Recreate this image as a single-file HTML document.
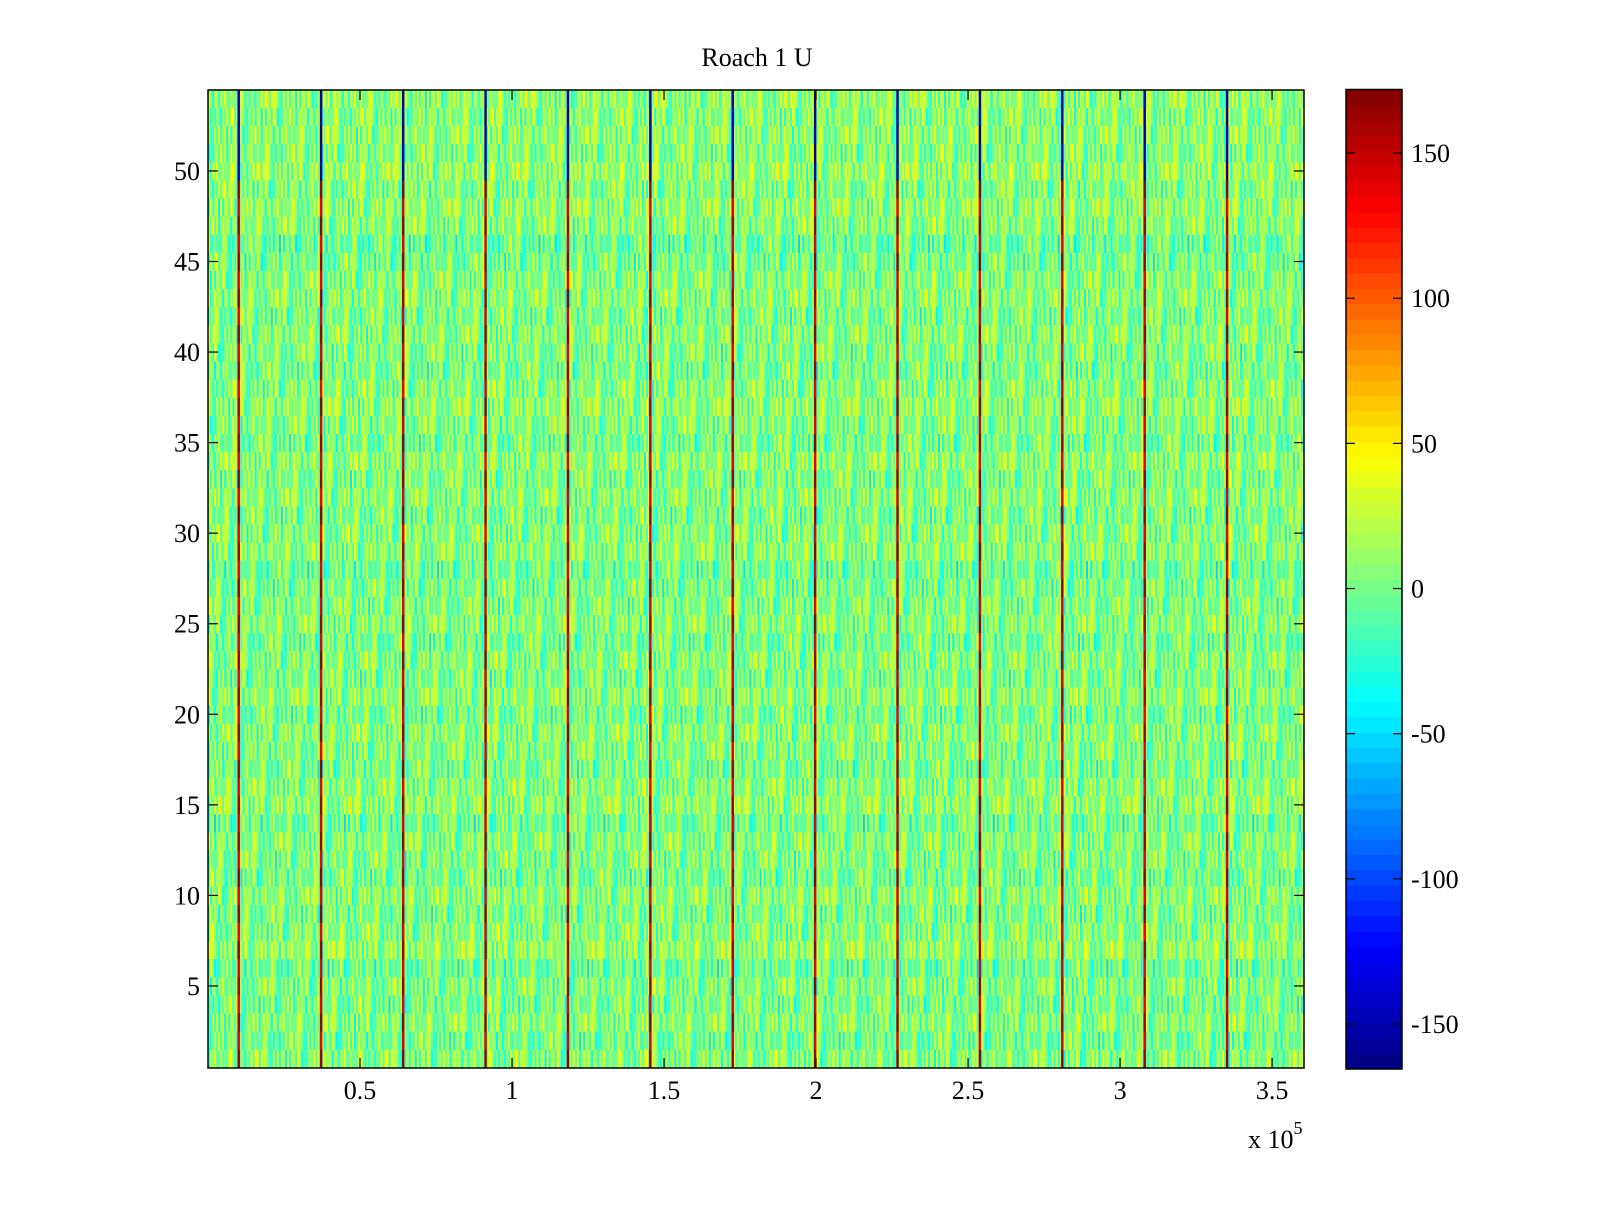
<!DOCTYPE html>
<html><head><meta charset="utf-8"><style>
html,body{margin:0;padding:0;background:#fff;}
svg text{font-family:"Liberation Serif",serif;fill:#000;}
</style></head><body>
<svg id="chart" width="1600" height="1200" xmlns="http://www.w3.org/2000/svg">
<text x="757" y="66" font-size="26" text-anchor="middle">Roach 1 U</text>
<g id="cells"></g>
<g id="spikes"></g>
<g id="axes"></g>
<g id="cbar"></g>
<text x="1248" y="1148" font-size="26">x 10<tspan dy="-14" font-size="18">5</tspan></text>
</svg>
<script>
const rowMeans = [2,-4,3,-2,1,-6,8,2,-1,4,-3,0,2,-5,6,3,-2,1,4,-3,5,-1,2,-4,3,0,-2,-6,4,2,-1,3,0,5,-3,1,6,2,-2,0,3,-1,4,2,-3,-8,3,6,1,8,2,5,3,6];
const textureVals = [-30,12,25,-8,40,-22,5,18,-35,30,2,-15,22,-5,35,-28,10,-40,15,28,-12,6,-20,33,-2,20,-33,8,42,-18,14,-6,26,-25,3,38,-10,17,-38,24,0,-14,31,-26,9,19,-7,36,-20,4,28,-32,13,-3,22,-16,45,-9,16,-28,7,30,-45,11];
const spikeX = [10100,37200,64200,91300,118400,145500,172600,199700,226800,253900,281000,308100,335200];
const spikeTopVal = -150, spikeLowVals = [165,140], spikeTopStartRow = 50, spikeWidth = 800;
const xTicks = [50000,100000,150000,200000,250000,300000,350000];
const xTickLabels = ["0.5","1","1.5","2","2.5","3","3.5"];
const yTicks = [5,10,15,20,25,30,35,40,45,50];
const cTicks = [150,100,50,0,-50,-100,-150];
const nCols = 540, colW = 667;

const L=208,R=1304,T=90,B=1068;
const xMin=0,xMax=360500,yMin=0.47,yMax=54.47;
const cMin=-165.5,cMax=171.9;
const CL=1346,CR=1402,CT=89.5,CB=1069;
const xs=v=>L+(v-xMin)/(xMax-xMin)*(R-L);
const ys=v=>B-(v-yMin)/(yMax-yMin)*(B-T);
const cs=v=>CB-(v-cMin)/(cMax-cMin)*(CB-CT);
const NS="http://www.w3.org/2000/svg";
function jet(v){
  let t=(v-cMin)/(cMax-cMin); t=Math.max(0,Math.min(1,t));
  t=(Math.floor(t*63.999)+0.5)/64;
  const c=x=>Math.round(255*Math.max(0,Math.min(1,x)));
  return `rgb(${c(1.5-Math.abs(4*t-3))},${c(1.5-Math.abs(4*t-2))},${c(1.5-Math.abs(4*t-1))})`;
}
function mk(tag,attrs,parent){const e=document.createElementNS(NS,tag);for(const k in attrs)e.setAttribute(k,attrs[k]);parent.appendChild(e);return e;}
const cells=document.getElementById('cells');
for(let r=0;r<rowMeans.length;r++){
  const row=r+1, y0=ys(row+0.5), y1=ys(row-0.5);
  for(let c=0;c<nCols;c++){
    const v=rowMeans[r]+textureVals[(c*37+r*11)%textureVals.length];
    const x0=xs(c*colW), x1=xs((c+1)*colW);
    const e=mk('rect',{x:x0.toFixed(2),y:y0.toFixed(2),width:(x1-x0+0.3).toFixed(2),height:(y1-y0+0.4).toFixed(2),fill:jet(v)},cells);
    
    
  }
}
const spikes=document.getElementById('spikes');
spikeX.forEach(sx=>{
  for(let r=0;r<rowMeans.length;r++){
    const row=r+1;
    const v=row>=spikeTopStartRow?spikeTopVal:spikeLowVals[r%spikeLowVals.length];
    const e=mk('rect',{x:xs(sx-spikeWidth/2).toFixed(2),y:ys(row+0.5).toFixed(2),width:(xs(spikeWidth)-xs(0)).toFixed(2),height:(ys(row-0.5)-ys(row+0.5)+0.4).toFixed(2),fill:jet(v)},spikes);
    
    
  }
});
const ax=document.getElementById('axes');
const fr=mk('rect',{x:L,y:T,width:R-L,height:B-T,fill:'none',stroke:'#000','stroke-width':1.5},ax);


xTicks.forEach((t,i)=>{
  const x=xs(t);
  mk('line',{x1:x,y1:B,x2:x,y2:B-10,stroke:'#000','stroke-width':1.2},ax);
  mk('line',{x1:x,y1:T,x2:x,y2:T+10,stroke:'#000','stroke-width':1.2},ax);
  const e=mk('text',{x:x,y:1099,'font-size':26,'text-anchor':'middle'},ax);
  e.textContent=xTickLabels[i];
  
  
});
yTicks.forEach(t=>{
  const y=ys(t);
  mk('line',{x1:L,y1:y,x2:L+10,y2:y,stroke:'#000','stroke-width':1.2},ax);
  mk('line',{x1:R,y1:y,x2:R-10,y2:y,stroke:'#000','stroke-width':1.2},ax);
  const e=mk('text',{x:200,y:y+9,'font-size':26,'text-anchor':'end'},ax);
  e.textContent=String(t);
  
  
});
const cb=document.getElementById('cbar');
for(let i=0;i<64;i++){
  const v0=cMin+(cMax-cMin)*i/64, v1=cMin+(cMax-cMin)*(i+1)/64;
  const e=mk('rect',{x:CL,y:cs(v1).toFixed(2),width:CR-CL,height:(cs(v0)-cs(v1)+0.4).toFixed(2),fill:jet((v0+v1)/2)},cb);
  
  
}
const cf=mk('rect',{x:CL,y:CT,width:CR-CL,height:CB-CT,fill:'none',stroke:'#000','stroke-width':1.5},cb);


cTicks.forEach(t=>{
  const y=cs(t);
  mk('line',{x1:CL,y1:y,x2:CL+9,y2:y,stroke:'#000','stroke-width':1.2},cb);
  mk('line',{x1:CR,y1:y,x2:CR-9,y2:y,stroke:'#000','stroke-width':1.2},cb);
  const e=mk('text',{x:1411,y:y+9,'font-size':26},cb);
  e.textContent=String(t);
  
  
});
</script>
</body></html>
